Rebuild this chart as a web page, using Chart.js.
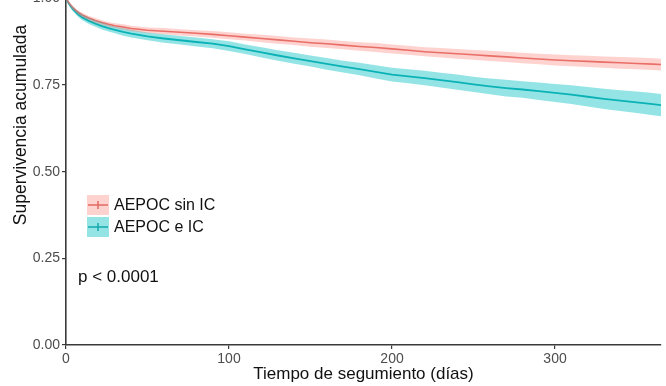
<!DOCTYPE html>
<html>
<head>
<meta charset="utf-8">
<script src="https://cdn.jsdelivr.net/npm/chart.js@4/dist/chart.umd.min.js"></script>
<style>
  html, body { margin: 0; padding: 0; background: #fff; overflow: hidden; width: 666px; height: 386px; }
  #wrap { position: absolute; left: 0; top: -20px; width: 666px; height: 406px; }
</style>
</head>
<body>
<div id="wrap"><canvas id="c"></canvas></div>
<script>
// ---- data ----
const days = [0,2,4,6,8,10,14,18,22,26,30,35,40,50,60,70,80,90,100,110,120,130,140,150,160,170,180,190,200,210,220,230,240,250,260,270,280,290,300,310,320,330,340,350,360,365];

const sinIC      = [1.000,0.985,0.974,0.965,0.958,0.952,0.943,0.936,0.930,0.925,0.921,0.917,0.913,0.908,0.905,0.902,0.899,0.896,0.892,0.888,0.884,0.880,0.876,0.872,0.869,0.865,0.861,0.858,0.854,0.850,0.846,0.843,0.840,0.837,0.834,0.831,0.828,0.825,0.822,0.820,0.818,0.816,0.814,0.812,0.810,0.809];
const sinICLower = [1.000,0.981,0.969,0.960,0.952,0.946,0.937,0.929,0.923,0.918,0.914,0.909,0.905,0.900,0.896,0.893,0.890,0.886,0.882,0.878,0.873,0.869,0.865,0.860,0.857,0.853,0.849,0.845,0.841,0.837,0.833,0.829,0.826,0.823,0.819,0.816,0.813,0.810,0.806,0.804,0.802,0.800,0.797,0.795,0.793,0.792];
const sinICUpper = [1.000,0.989,0.979,0.970,0.964,0.958,0.949,0.943,0.937,0.932,0.928,0.925,0.921,0.916,0.914,0.911,0.908,0.906,0.902,0.898,0.895,0.891,0.887,0.884,0.881,0.877,0.873,0.871,0.867,0.863,0.859,0.857,0.854,0.851,0.849,0.846,0.843,0.840,0.838,0.836,0.834,0.832,0.831,0.829,0.827,0.826];

const eIC        = [1.000,0.983,0.970,0.960,0.952,0.945,0.935,0.927,0.920,0.914,0.909,0.903,0.898,0.890,0.884,0.879,0.874,0.869,0.862,0.853,0.844,0.835,0.827,0.819,0.811,0.803,0.796,0.788,0.780,0.775,0.770,0.764,0.758,0.752,0.746,0.741,0.737,0.732,0.727,0.722,0.716,0.710,0.705,0.700,0.695,0.692];
const eICLower   = [1.000,0.978,0.964,0.953,0.944,0.937,0.926,0.918,0.910,0.904,0.899,0.892,0.887,0.879,0.872,0.867,0.861,0.856,0.848,0.839,0.829,0.820,0.811,0.803,0.794,0.786,0.778,0.769,0.760,0.755,0.749,0.743,0.736,0.730,0.723,0.717,0.713,0.707,0.701,0.695,0.688,0.681,0.675,0.669,0.663,0.660];
const eICUpper   = [1.000,0.988,0.976,0.967,0.960,0.953,0.944,0.936,0.930,0.924,0.919,0.914,0.909,0.901,0.896,0.891,0.887,0.882,0.876,0.867,0.859,0.850,0.843,0.835,0.828,0.820,0.814,0.807,0.800,0.795,0.791,0.785,0.780,0.774,0.769,0.765,0.761,0.757,0.753,0.749,0.744,0.739,0.735,0.731,0.727,0.724];

const seriesNames = ['AEPOC sin IC', 'AEPOC e IC'];
const xTicks = [0, 100, 200, 300];
const yTicks = [0, 0.25, 0.5, 0.75, 1.0];
const pText = 'p < 0.0001';
const xTitle = 'Tiempo de segumiento (días)';
const yTitle = 'Supervivencia acumulada';

// ---- styling ----
const RED = '#E26B64', RED_BAND = 'rgba(248,118,109,0.33)';
const TEAL = '#12A9AC', TEAL_BAND = 'rgba(0,191,196,0.42)';
const AXIS = '#3a3a3a';
const FONT = '"Liberation Sans", Arial, sans-serif';
const SHIFT = 20; // canvas is shifted up so the top of the panel is cropped as in the reference

const pts = arr => days.map((d, i) => ({ x: d, y: arr[i] }));
const base = { pointRadius: 0, stepped: false, tension: 0 };

const overlay = {
  id: 'overlay',
  afterDraw(chart) {
    const ctx = chart.ctx;
    ctx.save();
    // y axis title
    ctx.fillStyle = '#111';
    ctx.font = '17.5px ' + FONT;
    ctx.textAlign = 'center';
    ctx.textBaseline = 'middle';
    ctx.translate(21, 125 + SHIFT);
    ctx.rotate(-Math.PI / 2);
    ctx.fillText(yTitle, 0, 0);
    ctx.restore();

    // legend
    ctx.save();
    const keys = [[RED, RED_BAND], [TEAL, TEAL_BAND]];
    const rowsY = [205, 227];
    ctx.font = '16px ' + FONT;
    ctx.textBaseline = 'middle';
    ctx.textAlign = 'left';
    keys.forEach((k, i) => {
      const cy = rowsY[i] + SHIFT;
      ctx.fillStyle = k[1];
      ctx.fillRect(87, cy - 10, 22, 20);
      ctx.strokeStyle = k[0];
      ctx.lineWidth = 1.5;
      ctx.beginPath();
      ctx.moveTo(88, cy); ctx.lineTo(108, cy);
      ctx.moveTo(98, cy - 4); ctx.lineTo(98, cy + 4);
      ctx.stroke();
      ctx.fillStyle = '#111';
      ctx.fillText(seriesNames[i], 114, cy + 1);
    });
    // p-value
    ctx.font = '17px ' + FONT;
    ctx.fillText(pText, 78, 277 + SHIFT);
    ctx.restore();
  }
};

new Chart(document.getElementById('c'), {
  type: 'line',
  data: {
    datasets: [
      Object.assign({ label: seriesNames[0] + ' sup', data: pts(sinICUpper), borderWidth: 0, borderColor: 'transparent', backgroundColor: RED_BAND, fill: '+1' }, base),
      Object.assign({ label: seriesNames[0] + ' inf', data: pts(sinICLower), borderWidth: 0, borderColor: 'transparent', fill: false }, base),
      Object.assign({ label: seriesNames[1] + ' sup', data: pts(eICUpper), borderWidth: 0, borderColor: 'transparent', backgroundColor: TEAL_BAND, fill: '+1' }, base),
      Object.assign({ label: seriesNames[1] + ' inf', data: pts(eICLower), borderWidth: 0, borderColor: 'transparent', fill: false }, base),
      Object.assign({ label: seriesNames[0], data: pts(sinIC), borderWidth: 1.6, borderColor: RED, fill: false }, base),
      Object.assign({ label: seriesNames[1], data: pts(eIC), borderWidth: 1.8, borderColor: TEAL, fill: false }, base)
    ]
  },
  options: {
    responsive: true,
    maintainAspectRatio: false,
    animation: false,
    layout: { padding: { top: 18.3, right: 5, left: 0, bottom: 0 } },
    plugins: { legend: { display: false }, tooltip: { enabled: false } },
    scales: {
      x: {
        type: 'linear',
        min: 0, max: 365,
        afterFit: s => { s.height = 41; },
        afterBuildTicks: s => { s.ticks = xTicks.map(v => ({ value: v })); },
        ticks: { color: '#4d4d4d', font: { family: FONT, size: 14 }, padding: 2, maxRotation: 0 },
        grid: { display: true, drawOnChartArea: false, drawTicks: true, tickLength: 4, color: AXIS, lineWidth: 1.2 },
        border: { display: true, color: AXIS, width: 1.6 },
        title: { display: true, text: xTitle, color: '#111', font: { family: FONT, size: 17 }, padding: { top: 0, bottom: 1 } }
      },
      y: {
        type: 'linear',
        min: 0, max: 1,
        afterFit: s => { s.width = 66; },
        afterBuildTicks: s => { s.ticks = yTicks.map(v => ({ value: v })); },
        ticks: { color: '#4d4d4d', font: { family: FONT, size: 14 }, padding: 2, callback: v => v.toFixed(2) },
        grid: { display: true, drawOnChartArea: false, drawTicks: true, tickLength: 4, color: AXIS, lineWidth: 1.2 },
        border: { display: true, color: AXIS, width: 1.6 }
      }
    }
  },
  plugins: [overlay]
});
</script>
</body>
</html>
